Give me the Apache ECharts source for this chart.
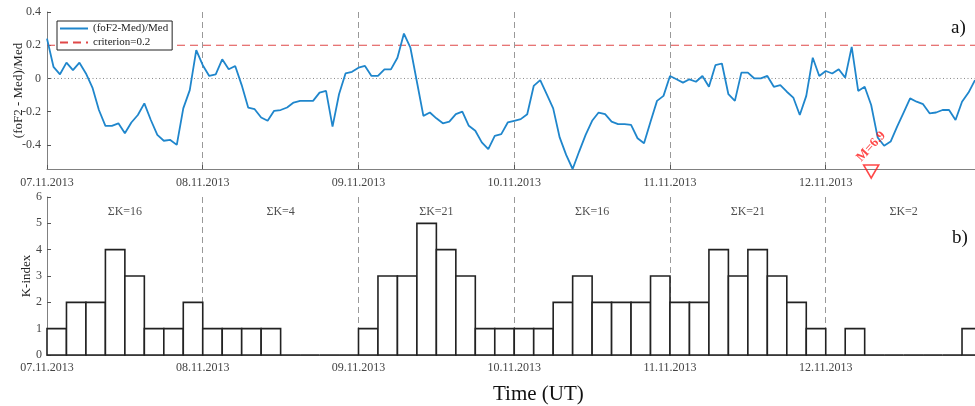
<!DOCTYPE html>
<html><head><meta charset="utf-8">
<script src="https://cdn.jsdelivr.net/npm/echarts@6/dist/echarts.min.js"></script>
<style>html,body{margin:0;padding:0;background:#fff}#c{width:975px;height:406px}</style>
</head><body><div id="c"></div>
<script>
// ---- data ----
const dayLabels = ['07.11.2013','08.11.2013','09.11.2013','10.11.2013','11.11.2013','12.11.2013'];
// hourly (foF2-Med)/Med, starting 07.11.2013 00 UT
const fof2 = [
  0.24, 0.07, 0.025, 0.095, 0.05, 0.095, 0.03, -0.055, -0.19, -0.285, -0.285, -0.27, -0.33, -0.265, -0.22, -0.15, -0.25, -0.34, -0.375, -0.37, -0.40, -0.18, -0.07, 0.17,
  0.08, 0.015, 0.025, 0.115, 0.055, 0.075, -0.04, -0.175, -0.185, -0.235, -0.255, -0.195, -0.19, -0.175, -0.145, -0.135, -0.135, -0.135, -0.085, -0.075, -0.29, -0.095, 0.03, 0.04,
  0.065, 0.075, 0.015, 0.015, 0.055, 0.055, 0.125, 0.27, 0.185, -0.02, -0.225, -0.205, -0.24, -0.27, -0.26, -0.215, -0.2, -0.285, -0.315, -0.385, -0.425, -0.345, -0.335, -0.265,
  -0.255, -0.245, -0.215, -0.045, -0.01, -0.095, -0.18, -0.355, -0.46, -0.545, -0.44, -0.34, -0.255, -0.205, -0.215, -0.26, -0.275, -0.275, -0.28, -0.36, -0.39, -0.26, -0.135, -0.105,
  0.015, -0.005, -0.025, -0.005, -0.02, 0.015, -0.05, 0.08, 0.09, -0.095, -0.135, 0.035, 0.035, 0, 0, 0.015, -0.05, -0.04, -0.08, -0.115, -0.22, -0.105, 0.125, 0.015,
  0.045, 0.03, 0.055, 0.005, 0.19, -0.075, -0.05, -0.16, -0.355, -0.405, -0.38, -0.29, -0.205, -0.12, -0.14, -0.155, -0.21, -0.205, -0.19, -0.19, -0.25, -0.14, -0.085, -0.01
];
// 3-hourly K-index
const kIndex = [
  1,2,2,4,3,1,1,2,
  1,1,1,1,0,0,0,0,
  1,3,3,5,4,3,1,1,
  1,1,2,3,2,2,2,3,
  2,2,4,3,4,3,2,1,
  0,1,0,0,0,0,0,1
];
const sumK = [16,4,21,16,21,2];
const criterion = 0.2;
const yTicksA = [-0.4,-0.2,0,0.2,0.4];
const quakeHour = 127;
const quakeLabel = 'M=6.9';

// ---- chart ----
const serif = 'Liberation Serif';
const lastHour = 143;
const chart = echarts.init(document.getElementById('c'));

function xAx(gi){
  return {
    type:'value', gridIndex:gi, min:0, max:lastHour, interval:24,
    axisLine:{show:true, onZero:false, lineStyle:{color:'#808080', width:1}},
    axisTick:{show:true, inside:true, length:4, lineStyle:{color:'#555'}},
    axisLabel:{formatter:v=>dayLabels[v/24]||'', fontFamily:serif, fontSize:12, color:'#444', margin:gi===0?8:7},
    splitLine:{show:true, showMaxLine:false, lineStyle:{type:[6,4], color:'#999', width:1}}
  };
}

chart.setOption({
  animation:false,
  backgroundColor:'#fff',
  title:[
    {text:'a)', left:946, top:14, textStyle:{fontFamily:serif, fontSize:19, fontWeight:'normal', color:'#111'}},
    {text:'b)', left:947, top:224, textStyle:{fontFamily:serif, fontSize:19, fontWeight:'normal', color:'#111'}},
    {text:'Time (UT)', left:488, top:379, textStyle:{fontFamily:serif, fontSize:21, fontWeight:'normal', color:'#111'}}
  ],
  legend:{
    left:57, top:21, orient:'vertical', itemWidth:28, itemHeight:12, itemGap:3,
    padding:[2,4,2,2], backgroundColor:'#fff', borderColor:'#222', borderWidth:1,
    textStyle:{fontFamily:serif, fontSize:11, color:'#222'},
    itemStyle:{opacity:0},
    data:['(foF2-Med)/Med','criterion=0.2']
  },
  grid:[
    {left:47, right:0, top:12, bottom:237, outerBoundsMode:'none', containLabel:false},
    {left:47, right:0, top:197, bottom:51, outerBoundsMode:'none', containLabel:false}
  ],
  xAxis:[xAx(0), xAx(1)],
  yAxis:[
    {type:'value', gridIndex:0, min:-0.545, max:0.4,
     axisLine:{show:true, onZero:false, lineStyle:{color:'#808080'}},
     axisTick:{show:true, inside:true, length:4, customValues:yTicksA, lineStyle:{color:'#555'}},
     axisLabel:{customValues:yTicksA, fontFamily:serif, fontSize:12, color:'#444', margin:6},
     splitLine:{show:false},
     name:'(foF2 - Med)/Med', nameLocation:'middle', nameGap:22, nameMoveOverlap:false,
     nameTextStyle:{fontFamily:serif, fontSize:13, color:'#222'}},
    {type:'value', gridIndex:1, min:0, max:6, interval:1,
     axisLine:{show:true, onZero:false, lineStyle:{color:'#808080'}},
     axisTick:{show:true, inside:true, length:4, lineStyle:{color:'#555'}},
     axisLabel:{fontFamily:serif, fontSize:12, color:'#444', margin:5},
     splitLine:{show:false},
     name:'K-index', nameLocation:'middle', nameGap:14, nameMoveOverlap:false,
     nameTextStyle:{fontFamily:serif, fontSize:13, color:'#222'}}
  ],
  series:[
    {type:'line', name:'zero', xAxisIndex:0, yAxisIndex:0, data:[[0,0],[lastHour,0]], symbol:'none',
     lineStyle:{color:'#888', width:1, type:[1,2.5]}, silent:true, z:1},
    {type:'line', name:'criterion=0.2', xAxisIndex:0, yAxisIndex:0, data:[[0,criterion],[lastHour,criterion]], symbol:'none',
     lineStyle:{color:'#e04848', width:1.2, type:[8,5]}, itemStyle:{color:'#e04848'}, z:2},
    {type:'line', name:'(foF2-Med)/Med', xAxisIndex:0, yAxisIndex:0, data:fof2.map((v,i)=>[i,v]), symbol:'none',
     lineStyle:{color:'#1f86cc', width:1.8}, itemStyle:{color:'#1f86cc'}, z:3},
    {type:'scatter', name:'quake', xAxisIndex:0, yAxisIndex:0, clip:false, data:[[quakeHour,-0.56]],
     symbol:'triangle', symbolRotate:180, symbolSize:[15,13],
     itemStyle:{color:'rgba(255,255,255,0)', borderColor:'#ff1a1a', borderWidth:1.6}, z:5},
    {type:'scatter', name:'quakeText', xAxisIndex:0, yAxisIndex:0, clip:false, data:[[quakeHour,-0.41]],
     symbolSize:1, itemStyle:{color:'rgba(255,255,255,0)'},
     label:{show:true, position:'inside', rotate:47, formatter:quakeLabel, fontFamily:serif, fontSize:13, fontWeight:'bold', color:'#ff1a1a'}, z:5},
    {type:'custom', name:'K', xAxisIndex:1, yAxisIndex:1, data:kIndex.map((k,i)=>[i*3,k]),
     encode:{x:0, y:1},
     renderItem:function(params, api){
       const x0 = api.value(0), k = api.value(1);
       const p0 = api.coord([x0,0]);
       const p1 = api.coord([x0+3,k]);
       const cs = params.coordSys;
       const right = Math.min(p1[0], cs.x+cs.width+1);
       return {type:'rect', shape:{x:p0[0], y:p1[1], width:right-p0[0], height:p0[1]-p1[1]},
               style:{fill:'#fff', stroke:'#222', lineWidth:1.6}};
     }, z:3},
    {type:'scatter', name:'sumK', xAxisIndex:1, yAxisIndex:1, data:sumK.map((s,i)=>[12+24*i,5.45,s]),
     symbolSize:1, itemStyle:{color:'rgba(255,255,255,0)'},
     label:{show:true, position:'inside', formatter:p=>'\u03A3K='+p.value[2], fontFamily:serif, fontSize:12, color:'#222'}, z:4}
  ]
});
</script></body></html>
